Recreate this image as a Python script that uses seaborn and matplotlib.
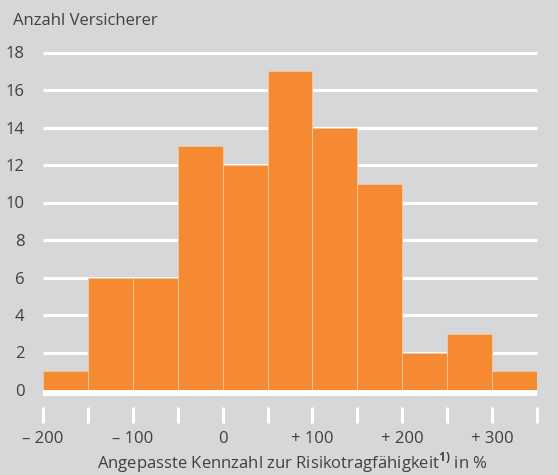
import numpy as np
import pandas as pd
import seaborn as sns
import matplotlib
matplotlib.use("Agg")
import matplotlib.pyplot as plt

# ---- data ----
bin_start = [-200, -150, -100, -50, 0, 50, 100, 150, 200, 250, 300]
counts = [1, 6, 6, 13, 12, 17, 14, 11, 2, 3, 1]
bin_width = 50
tick_values = [-200, -100, 0, 100, 200, 300]
tick_labels = ["\u2013 200", "\u2013 100", "0", "+ 100", "+ 200", "+ 300"]
y_ticks = [0, 2, 4, 6, 8, 10, 12, 14, 16, 18]
y_title = "Anzahl Versicherer"
x_title_main = "Angepasste Kennzahl zur Risikotragfähigkeit"
x_title_sup = "1)"
x_title_end = " in %"

BG = "#d6d7d9"
ORANGE = "#f58a32"
TXT = "#404040"

sns.set_theme(style="white")
plt.rcParams["font.family"] = ["Open Sans", "DejaVu Sans"]
plt.rcParams["mathtext.fontset"] = "custom"
plt.rcParams["mathtext.rm"] = "Open Sans"
plt.rcParams["mathtext.bf"] = "Open Sans:bold"

fig = plt.figure(figsize=(5.58, 4.75), dpi=100, facecolor=BG)
ax = fig.add_axes([43 / 558, (475 - 390) / 475, (537 - 43) / 558, (390 - 52.5) / 475])
ax.set_facecolor(BG)

df = pd.DataFrame({"value": bin_start, "count": counts})
lo = min(bin_start)
hi = max(bin_start) + bin_width
sns.histplot(data=df, x="value", weights="count", binwidth=bin_width,
             binrange=(lo, hi), color=ORANGE, alpha=1.0,
             edgecolor="#f6c49a", linewidth=0.7, ax=ax, zorder=3)

ax.set_xlim(lo, hi)
ax.set_ylim(0, 18)

# gridlines
for yv in y_ticks[1:]:
    ax.axhline(yv, color="white", lw=2.2, zorder=1, clip_on=False,
               solid_capstyle="butt")
ax.axhline(0, color="white", lw=8.6, zorder=2, clip_on=False,
           solid_capstyle="butt")

for s in ax.spines.values():
    s.set_visible(False)
ax.spines["bottom"].set_position(("outward", 12.2))

ax.set_xticks(np.arange(lo, hi + 1, bin_width))
ax.set_xticklabels([])
ax.tick_params(axis="x", which="major", direction="out", length=11.5, width=2.2,
               color="white", bottom=True, labelbottom=False)
for v, lab in zip(tick_values, tick_labels):
    ax.annotate(lab, xy=(v, 0), xycoords=("data", "axes fraction"),
                xytext=(0, -49), textcoords="offset pixels",
                ha="center", va="center", fontsize=12, color=TXT)

ax.set_yticks(y_ticks)
ax.set_yticklabels([str(v) for v in y_ticks])
ax.tick_params(axis="y", left=False, pad=7.5, labelsize=12, labelcolor=TXT)
ax.set_xlabel("")
ax.set_ylabel("")

fig.text(13 / 558, 1 - 21 / 475, y_title, ha="left", va="center", fontsize=12, color=TXT)
fig.text(292 / 558, 1 - 463 / 475,
         x_title_main + r"$^{\mathbf{" + x_title_sup + "}}$" + x_title_end,
         ha="center", va="center", fontsize=12, color=TXT)

fig.savefig("out.png", dpi=100, facecolor=BG)
